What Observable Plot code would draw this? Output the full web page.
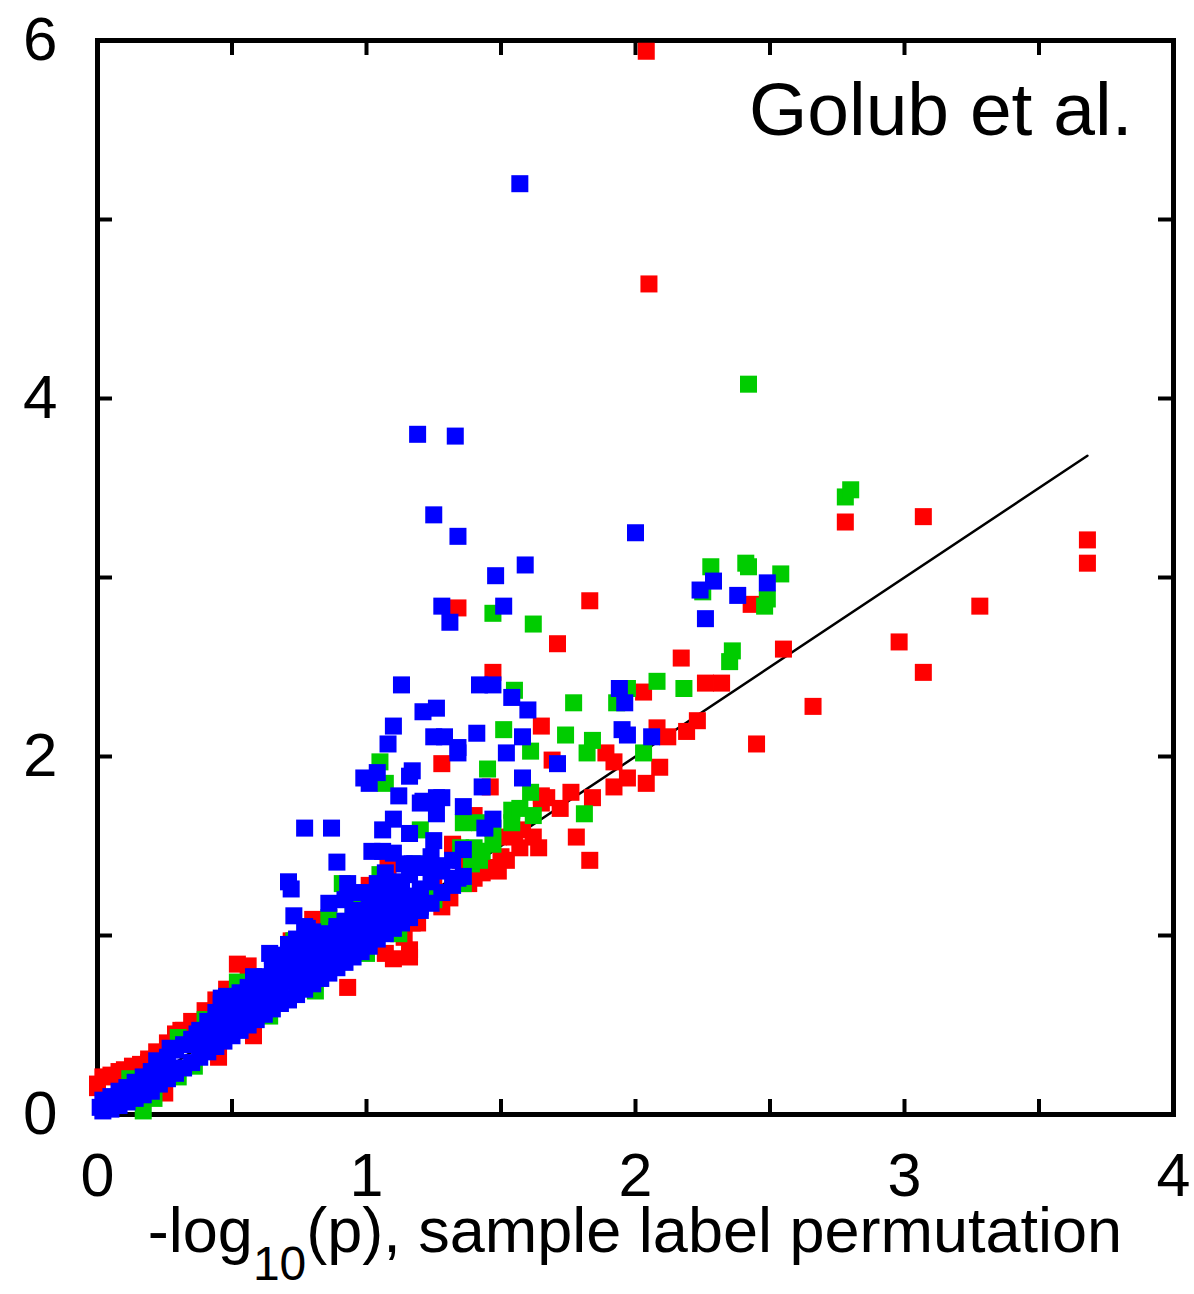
<!DOCTYPE html>
<html>
<head>
<meta charset="utf-8">
<script src="https://cdn.jsdelivr.net/npm/d3@7"></script>
<script src="https://cdn.jsdelivr.net/npm/@observablehq/plot@0.6"></script>
<style>
  html, body { margin: 0; padding: 0; background: #fff; }
  #chart svg { display: block; }
</style>
</head>
<body>
<div id="chart"></div>
<script>
// -log10(p) from sample-label permutation (x) against the other test (y), three series.

// Red series: points inside / along the dense band
const redBand = [
  [0.00,0.15],[0.00,0.17],[0.02,0.21],[0.05,0.22],[0.08,0.24],[0.10,0.25],[0.13,0.27],[0.16,0.28],
  [0.19,0.29],[0.19,0.31],[0.22,0.35],[0.26,0.40],[0.29,0.45],[0.31,0.47],[0.32,0.47],[0.35,0.52],
  [0.40,0.58],[0.44,0.64],[0.48,0.70],[0.52,0.84],[0.56,0.83],[0.58,0.44],[0.25,0.12],[0.45,0.32],
  [0.72,0.97],[0.80,1.09],[0.93,0.71],[1.01,1.28],[1.03,1.27],[1.08,1.39],[1.10,0.87],[1.16,0.88],
  [1.07,0.90],[1.14,0.99],[1.16,0.92],[1.17,1.07],[1.19,1.07],[1.25,1.31],[1.28,1.16],[1.30,1.23],
  [1.31,1.21],[1.32,1.50],[1.35,1.42],[1.38,1.29],[1.40,1.32],[1.43,1.35],[1.45,1.38],[1.49,1.36],
  [1.50,1.44],[1.52,1.42],[1.32,1.51],[1.40,1.67]
];
// Red series: scattered points
const redScatter = [
  [1.49,1.55],[1.55,1.55],[1.57,1.49],[1.58,1.59],[1.62,1.55],[1.64,1.49],[1.65,1.74],[1.67,1.77],
  [1.46,1.83],[1.28,1.96],[1.78,1.55],[1.83,1.42],[1.72,1.71],[1.65,1.78],[1.76,1.80],[1.84,1.77],
  [1.92,1.83],[1.97,1.88],[2.04,1.85],[2.09,1.94],[1.92,1.97],[1.89,2.02],[1.69,1.98],[1.65,2.17],
  [2.08,2.16],[2.12,2.11],[2.19,2.14],[2.23,2.20],[2.45,2.07],[2.03,2.36],[2.26,2.41],[2.32,2.41],
  [1.47,2.47],[2.17,2.55],[2.55,2.60],[1.71,2.63],[1.34,2.83],[1.83,2.87],[2.43,2.85],[2.66,2.28],
  [3.07,2.47],[2.98,2.64],[3.28,2.84],[3.68,3.08],[3.68,3.21],[2.78,3.31],[3.07,3.34],[2.05,4.64],
  [2.04,5.94]
];

// Green series: points inside / along the dense band
const greenBand = [
  [0.12,0.20],[0.17,0.02],[0.21,0.09],[0.30,0.21],[0.30,0.43],[0.36,0.27],[0.40,0.53],[0.43,0.50],
  [0.52,0.74],[0.55,0.70],[0.64,0.55],[0.73,0.97],[0.81,0.69],[0.86,1.10],[0.91,1.29],[0.95,1.16],
  [1.00,0.90],[1.05,1.34],[1.10,1.03],[1.12,1.01],[1.18,1.40],[1.25,1.20],[1.25,1.21]
];
// Green series: scattered points
const greenScatter = [
  [1.05,1.97],[1.07,1.85],[1.20,1.59],[1.35,1.49],[1.36,1.29],[1.36,1.63],[1.39,1.40],[1.40,1.49],
  [1.41,1.47],[1.42,1.42],[1.42,1.63],[1.43,1.47],[1.45,1.93],[1.47,1.51],[1.47,1.60],[1.54,1.63],
  [1.54,1.70],[1.57,1.71],[1.61,1.80],[1.62,1.67],[1.81,1.68],[1.61,2.03],[1.82,2.02],[1.84,2.09],
  [2.03,2.02],[1.74,2.12],[1.51,2.15],[1.77,2.30],[1.93,2.30],[1.55,2.37],[1.97,2.38],[2.18,2.38],
  [2.08,2.42],[2.35,2.53],[2.36,2.59],[1.62,2.74],[1.47,2.80],[2.48,2.84],[2.49,2.88],[2.25,2.92],
  [2.54,3.02],[2.42,3.06],[2.28,3.06],[2.41,3.08],[2.78,3.45],[2.80,3.49],[2.42,4.08]
];

// Blue series: the dense band near the diagonal
const blueBand = [
  [0.02,0.02],[0.02,0.08],[0.05,0.03],[0.05,0.10],[0.08,0.05],[0.08,0.13],[0.11,0.07],[0.11,0.15],
  [0.14,0.09],[0.14,0.18],[0.17,0.11],[0.17,0.21],[0.20,0.13],[0.20,0.24],[0.23,0.17],[0.23,0.28],
  [0.26,0.20],[0.26,0.32],[0.29,0.23],[0.29,0.36],[0.32,0.26],[0.32,0.39],[0.35,0.29],[0.35,0.42],
  [0.38,0.32],[0.38,0.40],[0.38,0.47],[0.41,0.35],[0.41,0.44],[0.41,0.52],[0.44,0.38],[0.44,0.48],
  [0.44,0.57],[0.47,0.41],[0.47,0.51],[0.47,0.61],[0.50,0.44],[0.50,0.54],[0.50,0.64],[0.53,0.47],
  [0.53,0.57],[0.53,0.68],[0.56,0.50],[0.56,0.60],[0.56,0.71],[0.59,0.53],[0.59,0.63],[0.59,0.74],
  [0.62,0.56],[0.62,0.66],[0.62,0.77],[0.65,0.59],[0.65,0.69],[0.65,0.80],[0.68,0.62],[0.68,0.72],
  [0.68,0.83],[0.71,0.64],[0.71,0.75],[0.71,0.86],[0.71,0.95],[0.74,0.67],[0.74,0.78],[0.74,0.89],
  [0.74,0.98],[0.77,0.70],[0.77,0.80],[0.77,0.92],[0.80,0.73],[0.80,0.83],[0.80,0.95],[0.80,1.02],
  [0.83,0.76],[0.83,0.86],[0.83,0.98],[0.86,0.79],[0.86,0.89],[0.86,1.01],[0.89,0.82],[0.89,0.93],
  [0.89,1.05],[0.92,0.85],[0.92,0.96],[0.92,1.08],[0.92,1.20],[0.95,0.88],[0.95,0.99],[0.95,1.11],
  [0.98,0.91],[0.98,1.02],[0.98,1.14],[0.98,1.24],[1.01,0.94],[1.01,1.05],[1.01,1.17],[1.04,0.98],
  [1.04,1.08],[1.04,1.20],[1.07,1.01],[1.07,1.11],[1.07,1.23],[1.07,1.35],[1.10,1.04],[1.10,1.15],
  [1.10,1.27],[1.13,1.07],[1.13,1.18],[1.13,1.30],[1.16,1.10],[1.16,1.22],[1.16,1.34],[1.20,1.14],
  [1.20,1.26],[1.20,1.38],[1.24,1.18],[1.24,1.30],[1.24,1.44],[1.28,1.24],[1.28,1.36],[1.32,1.28],
  [1.32,1.42],[1.36,1.33],[1.36,1.48]
];
// Blue series: scattered points
const blueScatter = [
  [1.57,5.20],[1.19,3.80],[1.33,3.79],[1.25,3.35],[1.34,3.23],[2.00,3.25],[1.59,3.07],[1.48,3.01],
  [2.29,2.98],[2.49,2.97],[2.24,2.93],[2.38,2.90],[1.28,2.84],[1.51,2.84],[1.31,2.75],[2.26,2.77],
  [1.13,2.40],[1.42,2.40],[1.47,2.40],[1.94,2.38],[1.54,2.33],[1.96,2.30],[1.26,2.27],[1.60,2.26],
  [1.21,2.25],[1.10,2.17],[1.95,2.15],[1.41,2.13],[1.97,2.12],[1.25,2.11],[1.29,2.11],[1.58,2.11],
  [2.06,2.11],[1.08,2.07],[1.34,2.05],[1.34,2.02],[1.52,2.02],[1.71,1.96],[1.17,1.92],[1.04,1.91],
  [1.16,1.89],[0.99,1.88],[1.58,1.88],[1.01,1.85],[1.43,1.83],[1.12,1.78],[1.26,1.77],[1.28,1.77],
  [1.21,1.75],[1.20,1.74],[1.36,1.72],[1.26,1.68],[1.10,1.65],[1.47,1.65],[0.77,1.60],[0.87,1.60],
  [1.06,1.59],[1.44,1.60],[1.16,1.57],[1.25,1.53],[1.02,1.47],[1.06,1.47],[1.10,1.46],[0.89,1.41],
  [1.14,1.40],[1.17,1.40],[1.18,1.40],[1.26,1.39],[1.34,1.32],[0.71,1.30],[0.93,1.29],[1.04,1.29],
  [1.09,1.27],[0.72,1.26],[1.08,1.21],[1.20,1.21],[0.86,1.18],[1.06,1.18],[1.20,1.16],[1.17,1.14],
  [0.73,1.11],[1.03,1.12],[1.13,1.10],[1.10,1.08],[0.77,1.05],[0.78,1.04],[0.98,1.04],[0.89,1.03],
  [1.03,1.01],[0.80,0.96],[0.64,0.90],[0.65,0.89],[0.68,0.88],[0.90,0.88],[0.77,0.86],[0.80,0.79],
  [0.58,0.77],[0.68,0.77],[0.48,0.66],[0.46,0.65],[0.46,0.62],[0.37,0.45],[0.27,0.37],[0.22,0.30],
  [0.11,0.15],[0.01,0.04]
];

// Axis ticks and labels
const xTickValues = [0.5, 1, 1.5, 2, 2.5, 3, 3.5];
const yTickValues = [1, 2, 3, 4, 5];
const xLabelValues = [0, 1, 2, 3, 4];
const yLabelValues = [0, 2, 4, 6];
const diagonalEnd = 3.68;          // reference line y = x runs from 0 to here
const panelTitle = "Golub et al.";

const seriesColors = { red: "#ff0000", green: "#00cc00", blue: "#0000ff" };

// Layout
const W = 1194, H = 1294;
const M = { left: 97, right: 21, top: 40, bottom: 180 };
const innerW = W - M.left - M.right;
const innerH = H - M.top - M.bottom;
const tickLen = 15;
const FONT = "'Liberation Sans', Arial, Helvetica, sans-serif";
const intFormat = d => String(d);

const toRows = pts => pts.map(([x, y]) => ({ x, y }));
const squares = (pts, color) =>
  Plot.dot(toRows(pts), { x: "x", y: "y", symbol: "square", r: 9.6, fill: color, stroke: null });

const chart = Plot.plot({
  width: W,
  height: H,
  marginLeft: M.left,
  marginRight: M.right,
  marginTop: M.top,
  marginBottom: M.bottom,
  x: { domain: [0, 4] },
  y: { domain: [0, 6] },
  style: { fontFamily: FONT, background: "white", color: "black", overflow: "visible" },
  marks: [
    Plot.frame({ stroke: "black", strokeWidth: 5 }),
    // inward ticks on all four sides
    Plot.tickX(xTickValues, { x: d => d, stroke: "black", strokeWidth: 4, insetTop: innerH - tickLen }),
    Plot.tickX(xTickValues, { x: d => d, stroke: "black", strokeWidth: 4, insetBottom: innerH - tickLen }),
    Plot.tickY(yTickValues, { y: d => d, stroke: "black", strokeWidth: 4, insetRight: innerW - tickLen }),
    Plot.tickY(yTickValues, { y: d => d, stroke: "black", strokeWidth: 4, insetLeft: innerW - tickLen }),
    Plot.axisX(xLabelValues, { anchor: "bottom", tickSize: 0, tickPadding: 38, fontSize: 61, label: null, tickFormat: intFormat }),
    Plot.axisY(yLabelValues, { anchor: "left", tickSize: 0, tickPadding: 40, fontSize: 62, label: null, tickFormat: intFormat }),
    // y = x reference line
    Plot.line([0, diagonalEnd], { x: d => d, y: d => d, stroke: "black", strokeWidth: 2.5 }),
    squares(redBand.concat(redScatter), seriesColors.red),
    squares(greenBand.concat(greenScatter), seriesColors.green),
    squares(blueBand.concat(blueScatter), seriesColors.blue),
    Plot.text([panelTitle], {
      frameAnchor: "top-right", textAnchor: "end", lineAnchor: "top",
      dx: -41, dy: 41, fontSize: 75, fill: "black"
    })
  ]
});

// x-axis title with a subscript
const svg = d3.select(chart);
const title = svg.append("text")
  .attr("x", M.left + innerW / 2)
  .attr("y", H - 42)
  .attr("text-anchor", "middle")
  .attr("font-size", 63)
  .attr("font-family", FONT)
  .attr("fill", "black");
title.append("tspan").text("-log");
title.append("tspan").attr("dy", 28).attr("font-size", 48).text("10");
title.append("tspan").attr("dy", -28).text("(p), sample label permutation");

document.getElementById("chart").appendChild(chart);
</script>
</body>
</html>
